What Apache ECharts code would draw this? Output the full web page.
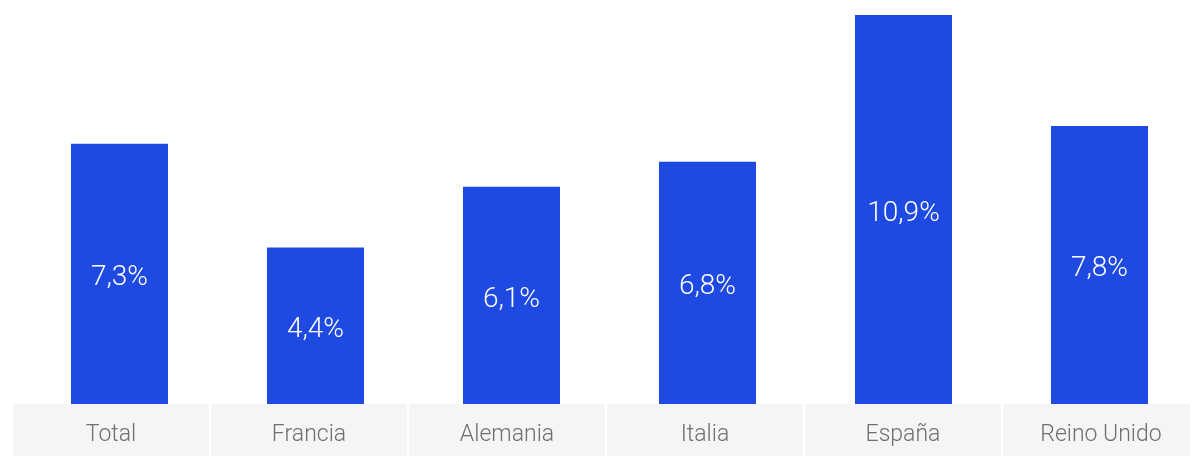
<!DOCTYPE html>
<html>
<head>
<meta charset="utf-8">
<script src="https://cdn.jsdelivr.net/npm/echarts@6/dist/echarts.min.js"></script>
<style>
  html, body { margin: 0; padding: 0; background: #ffffff; overflow: hidden; }
  /* the last label cell runs past the right edge of the window */
  #chart { width: 1200px; height: 456px; }
</style>
</head>
<body>
<div id="chart"></div>
<script>
// Países y tasas (%)
const categories = ['Total', 'Francia', 'Alemania', 'Italia', 'España', 'Reino Unido'];
const rates = [7.3, 4.4, 6.1, 6.8, 10.9, 7.8];
// Valor fijo para las celdas grises de la franja de etiquetas
const stripCells = categories.map(() => 1);

const FONT = 'Roboto, "Helvetica Neue", Arial, sans-serif';
const fmt = v => v.toFixed(1).replace('.', ',') + '%';

const chart = echarts.init(document.getElementById('chart'), null, { renderer: 'canvas' });

chart.setOption({
  animation: false,
  backgroundColor: '#ffffff',
  grid: [
    { left: 21.5, width: 1176, top: 15, height: 390, containLabel: false },
    { left: 12, width: 1188, top: 404, height: 52, containLabel: false }
  ],
  xAxis: [
    {
      gridIndex: 0, type: 'category', data: categories,
      axisLine: { show: false }, axisTick: { show: false }, axisLabel: { show: false },
      splitLine: { show: false }
    },
    {
      gridIndex: 1, type: 'category', data: categories,
      axisLine: { show: false }, axisTick: { show: false }, axisLabel: { show: false },
      splitLine: { show: false }
    }
  ],
  yAxis: [
    { gridIndex: 0, type: 'value', min: 0, max: 10.9, show: false },
    { gridIndex: 1, type: 'value', min: 0, max: 1, show: false }
  ],
  series: [
    {
      type: 'bar',
      xAxisIndex: 0, yAxisIndex: 0,
      data: rates,
      barWidth: 97,
      itemStyle: { color: '#1f4ae2' },
      label: {
        show: true,
        position: 'inside',
        offset: [0, 4],
        formatter: p => fmt(p.value),
        color: '#ffffff',
        fontFamily: FONT,
        fontWeight: 300,
        fontSize: 28
      },
      z: 2
    },
    {
      type: 'bar',
      xAxisIndex: 1, yAxisIndex: 1,
      data: stripCells,
      barWidth: 196,
      itemStyle: { color: '#f5f5f5' },
      label: {
        show: true,
        position: 'inside',
        offset: [0, 5],
        formatter: p => p.name,
        color: '#6f6f6f',
        fontFamily: FONT,
        fontWeight: 300,
        fontSize: 23
      },
      silent: true,
      z: 3
    }
  ]
});
</script>
</body>
</html>
